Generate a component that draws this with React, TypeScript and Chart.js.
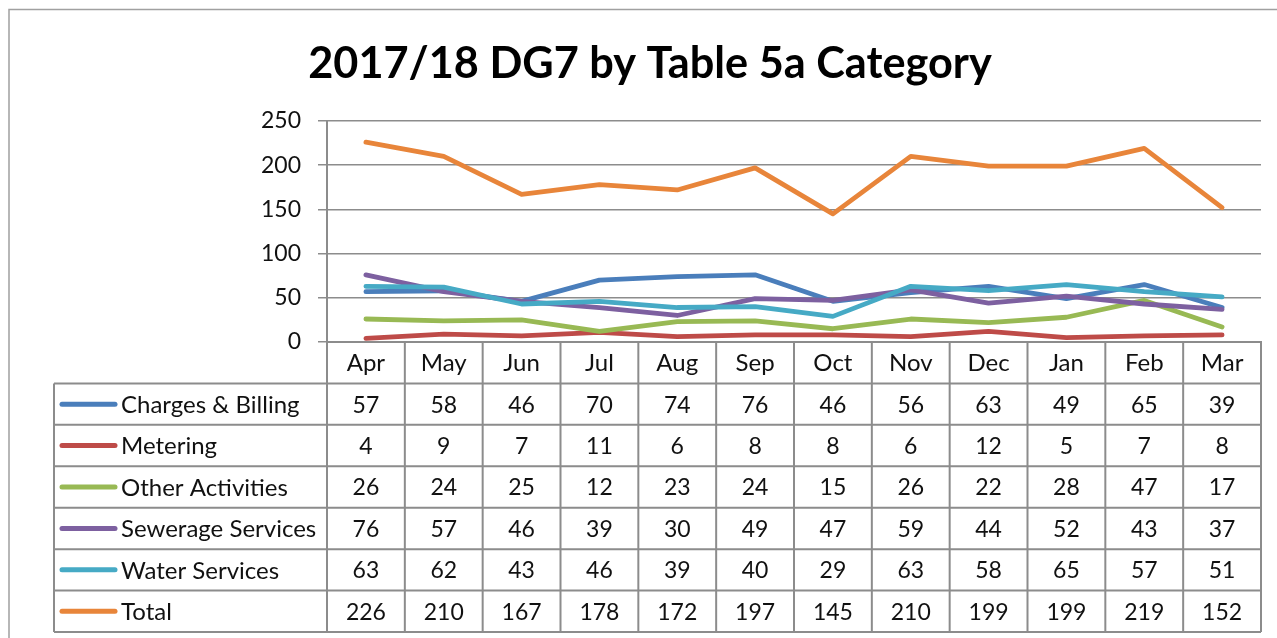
import React, { useEffect, useRef } from "react";
import { Chart, registerables } from "chart.js";

Chart.register(...registerables);

const chartTitle = "2017/18 DG7 by Table 5a Category";
const months = ["Apr", "May", "Jun", "Jul", "Aug", "Sep", "Oct", "Nov", "Dec", "Jan", "Feb", "Mar"];
const seriesNames = [
  "Charges & Billing",
  "Metering",
  "Other Activities",
  "Sewerage Services",
  "Water Services",
  "Total",
];
const chargesBilling = [57, 58, 46, 70, 74, 76, 46, 56, 63, 49, 65, 39];
const metering = [4, 9, 7, 11, 6, 8, 8, 6, 12, 5, 7, 8];
const otherActivities = [26, 24, 25, 12, 23, 24, 15, 26, 22, 28, 47, 17];
const sewerageServices = [76, 57, 46, 39, 30, 49, 47, 59, 44, 52, 43, 37];
const waterServices = [63, 62, 43, 46, 39, 40, 29, 63, 58, 65, 57, 51];
const total = [226, 210, 167, 178, 172, 197, 145, 210, 199, 199, 219, 152];
const seriesValues = [chargesBilling, metering, otherActivities, sewerageServices, waterServices, total];
const seriesColors = ["#4A7EBB", "#BE4B48", "#98B954", "#7D60A0", "#46AAC5", "#E8853A"];
const yTicks = [0, 50, 100, 150, 200, 250];

const FONT = "Lato, 'Open Sans', sans-serif";
const GRID = "#8C8C8C";
const TEXT = "#111111";

const framePlugin = {
  id: "frame",
  beforeDraw(chart: any) {
    const { ctx } = chart;
    ctx.save();
    ctx.fillStyle = "#ffffff";
    ctx.fillRect(0, 0, chart.width, chart.height);
    ctx.strokeStyle = "#A0A0A0";
    ctx.lineWidth = 1.5;
    ctx.beginPath();
    ctx.moveTo(9, chart.height);
    ctx.lineTo(9, 9.5);
    ctx.lineTo(chart.width, 9.5);
    ctx.stroke();
    ctx.restore();
  },
};

const tablePlugin = {
  id: "dataTable",
  afterDraw(chart: any) {
    const { ctx, chartArea } = chart;
    const x = chart.scales.x;
    const n = months.length;
    const colW = x.getPixelForValue(1) - x.getPixelForValue(0);
    const left = chartArea.left;
    const right = chartArea.right;
    const top = chartArea.bottom;
    const bottom = 632;
    const rows = seriesNames.length + 1;
    const rowH = (bottom - top) / rows;
    const tableLeft = 54;

    ctx.save();
    ctx.strokeStyle = GRID;
    ctx.lineWidth = 2;
    ctx.beginPath();
    for (let r = 1; r <= rows; r++) {
      const y = top + r * rowH;
      ctx.moveTo(tableLeft, y);
      ctx.lineTo(right, y);
    }
    ctx.moveTo(tableLeft, top + rowH);
    ctx.lineTo(tableLeft, bottom);
    for (let i = 0; i <= n; i++) {
      const xb = left + i * colW;
      ctx.moveTo(xb, top);
      ctx.lineTo(xb, bottom);
    }
    ctx.stroke();

    ctx.textBaseline = "middle";
    seriesNames.forEach((name, s) => {
      const cy = top + (s + 1) * rowH + rowH / 2;
      ctx.strokeStyle = seriesColors[s];
      ctx.lineWidth = 5;
      ctx.lineCap = "round";
      ctx.beginPath();
      ctx.moveTo(62, cy);
      ctx.lineTo(115, cy);
      ctx.stroke();
      ctx.fillStyle = TEXT;
      ctx.textAlign = "left";
      ctx.font = `24px ${FONT}`;
      ctx.fillText(name, 121, cy + 1);
      ctx.textAlign = "center";
      ctx.font = `23px ${FONT}`;
      seriesValues[s].forEach((v, i) => {
        ctx.fillText(String(v), x.getPixelForValue(i), cy + 1);
      });
    });

    // title
    ctx.font = `bold 40px ${FONT}`;
    const w = ctx.measureText(chartTitle).width;
    const size = (40 * 684) / w;
    ctx.font = `bold ${size}px ${FONT}`;
    ctx.fillStyle = "#000000";
    ctx.textAlign = "center";
    ctx.textBaseline = "alphabetic";
    ctx.fillText(chartTitle, 650, 78);
    ctx.restore();
  },
};

export default function App() {
  const canvasRef = useRef<HTMLCanvasElement | null>(null);

  useEffect(() => {
    if (!canvasRef.current) return;
    const chart = new Chart(canvasRef.current, {
      type: "line",
      data: {
        labels: months,
        datasets: seriesNames.map((name, i) => ({
          label: name,
          data: seriesValues[i],
          borderColor: seriesColors[i],
          backgroundColor: seriesColors[i],
          borderWidth: 4.8,
          pointRadius: 0,
          tension: 0,
          fill: false,
          borderCapStyle: "round" as const,
          borderJoinStyle: "round" as const,
          order: seriesNames.length - i,
        })),
      },
      options: {
        responsive: false,
        animation: false,
        layout: { padding: { left: 0, right: 16, top: 121, bottom: 0 } },
        plugins: {
          legend: { display: false },
          title: { display: false },
          tooltip: { enabled: false },
        },
        scales: {
          x: {
            offset: true,
            grid: { display: false, drawTicks: false },
            border: { display: true, color: GRID, width: 2 },
            ticks: {
              padding: 7,
              color: TEXT,
              maxRotation: 0,
              autoSkip: false,
              font: { family: FONT, size: 24 },
            },
            afterFit: (s: any) => {
              s.height = 296;
            },
          },
          y: {
            min: 0,
            max: 250,
            afterBuildTicks: (s: any) => {
              s.ticks = yTicks.map((v) => ({ value: v }));
            },
            grid: { color: GRID, lineWidth: 1.5, tickLength: 9 },
            border: { color: GRID, width: 2 },
            ticks: {
              padding: 17,
              color: TEXT,
              font: { family: FONT, size: 23 },
            },
            afterFit: (s: any) => {
              s.width = 327;
            },
          },
        },
      },
      plugins: [framePlugin, tablePlugin],
    });
    return () => chart.destroy();
  }, []);

  return (
    <div style={{ position: "fixed", left: 0, top: 0, width: 1277, height: 638 }}>
      <canvas ref={canvasRef} width={1277} height={638} />
    </div>
  );
}
